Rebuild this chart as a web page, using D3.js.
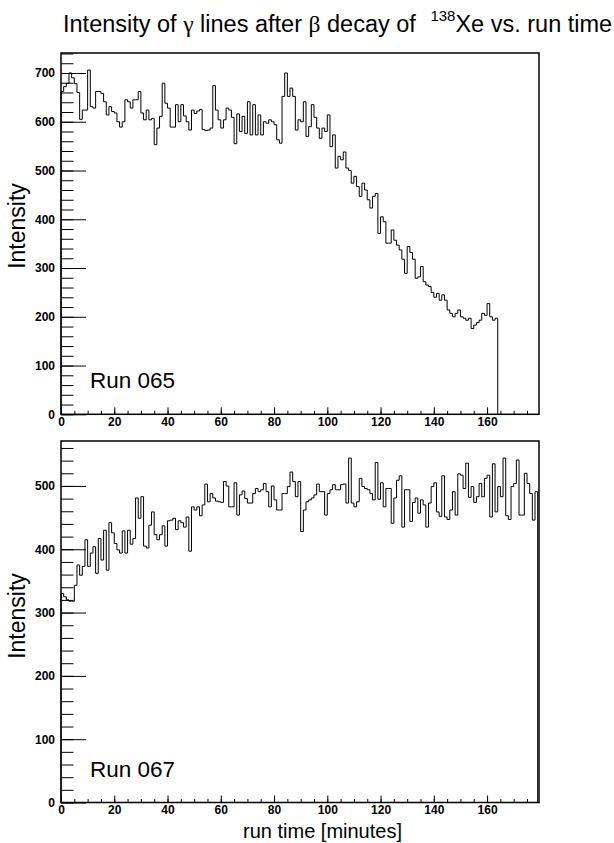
<!DOCTYPE html>
<html>
<head>
<meta charset="utf-8">
<script src="https://cdn.jsdelivr.net/npm/d3@7"></script>
<style>
body { margin: 0; background: #fff; }
text { font-family: "Liberation Sans", Arial, Helvetica, sans-serif; }
</style>
</head>
<body>
<svg id="chart" width="614" height="843"></svg>
<script>
// intensity per 1 minute bin, starting at 0 min
const run065 = [662, 672, 679, 700, 690, 678, 660, 605, 624, 624,
  706, 631, 628, 662, 662, 658, 641, 614, 631, 621,
  618, 600, 589, 600, 645, 641, 628, 645, 645, 662,
  618, 604, 624, 604, 607, 553, 587, 611, 679, 638,
  628, 589, 589, 635, 600, 635, 612, 600, 583, 624,
  617, 622, 625, 584, 582, 583, 587, 674, 624, 604,
  587, 604, 628, 624, 609, 555, 616, 580, 611, 576,
  641, 573, 635, 573, 614, 573, 600, 597, 604, 600,
  594, 563, 556, 652, 700, 652, 669, 652, 583, 604,
  600, 641, 570, 590, 635, 609, 587, 566, 587, 580,
  614, 549, 573, 505, 529, 522, 538, 505, 500, 474,
  488, 467, 447, 474, 460, 440, 423, 447, 453, 371,
  405, 395, 351, 351, 378, 357, 347, 337, 318, 289,
  344, 332, 318, 279, 282, 303, 272, 265, 262, 250,
  240, 248, 234, 245, 234, 214, 207, 200, 207, 214,
  200, 197, 193, 197, 176, 183, 188, 193, 207, 203,
  227, 200, 193, 197];

const run067 = [330, 325, 320, 318, 318, 343, 375, 359, 373, 415,
  373, 394, 404, 362, 417, 383, 430, 367, 442, 426,
  409, 399, 394, 429, 394, 430, 408, 417, 481, 449,
  483, 405, 402, 438, 459, 423, 415, 423, 437, 405,
  445, 446, 449, 431, 445, 442, 435, 451, 397, 467,
  462, 467, 453, 470, 503, 475, 488, 481, 476, 475,
  474, 507, 500, 467, 467, 505, 454, 486, 492, 480,
  473, 473, 488, 496, 491, 494, 504, 491, 467, 500,
  478, 462, 462, 488, 488, 499, 522, 507, 483, 507,
  428, 462, 475, 478, 481, 486, 503, 491, 491, 454,
  488, 494, 502, 494, 494, 502, 503, 473, 544, 473,
  467, 475, 512, 499, 496, 494, 488, 478, 537, 479,
  505, 467, 496, 496, 441, 481, 509, 516, 435, 494,
  494, 444, 474, 481, 457, 478, 470, 435, 473, 499,
  505, 459, 452, 516, 451, 447, 462, 491, 454, 519,
  517, 496, 536, 482, 499, 474, 483, 504, 483, 512,
  517, 451, 535, 459, 499, 483, 544, 453, 447, 499,
  504, 541, 454, 454, 520, 504, 488, 446, 491];

const xTicks = [0, 20, 40, 60, 80, 100, 120, 140, 160];
const yTicks065 = [0, 100, 200, 300, 400, 500, 600, 700];
const yTicks067 = [0, 100, 200, 300, 400, 500];
const runNames = ["Run 065", "Run 067"];

const svg = d3.select("#chart");

const x = d3.scaleLinear().domain([0, 179.5]).range([61, 539]);

// title with greek letters and superscript
const title = svg.append("text")
  .attr("x", 63)
  .attr("y", 32)
  .attr("font-size", "23.5px")
  .attr("fill", "#000");
title.append("tspan").text("Intensity of ");
title.append("tspan").attr("font-family", "Liberation Serif, serif").text("γ");
title.append("tspan").text(" lines after ");
title.append("tspan").attr("font-family", "Liberation Serif, serif").text("β");
title.append("tspan").text(" decay of ");
title.append("tspan").attr("font-size", "15px").attr("dx", 8).attr("dy", -11).text("138");
title.append("tspan").attr("dy", 11).text("Xe vs. run time");

function drawPanel(values, yMax, top, bottom, yTicks, name, titleY) {
  const y = d3.scaleLinear().domain([0, yMax]).range([bottom, top]);
  const g = svg.append("g");

  // histogram outline
  const pts = [[0, 0]];
  values.forEach((v, i) => {
    pts.push([i, v]);
    pts.push([i + 1, v]);
  });
  pts.push([values.length, 0]);

  const line = d3.line().x(d => x(d[0])).y(d => y(d[1]));
  g.append("path")
    .attr("d", line(pts))
    .attr("fill", "none")
    .attr("stroke", "#000")
    .attr("stroke-width", 1);

  // y axis minor ticks
  const yMinor = g.append("g")
    .attr("transform", `translate(${x(0)},0)`)
    .call(d3.axisLeft(y).tickValues(d3.range(0, yMax, 20)).tickSize(-12.5).tickFormat(""));
  yMinor.select(".domain").remove();

  // y axis major ticks + labels
  const yAxis = g.append("g")
    .attr("transform", `translate(${x(0)},0)`)
    .call(d3.axisLeft(y).tickValues(yTicks).tickSize(-25).tickPadding(6));
  yAxis.select(".domain").remove();
  yAxis.selectAll("text")
    .attr("font-size", "12px")
    .attr("font-weight", "bold")
    .attr("font-family", "Liberation Sans, Arial, sans-serif");

  // x axis minor ticks
  const xMinor = g.append("g")
    .attr("transform", `translate(0,${bottom})`)
    .call(d3.axisBottom(x).tickValues(d3.range(0, 180, 5)).tickSize(-3.5).tickFormat(""));
  xMinor.select(".domain").remove();

  const xAxis = g.append("g")
    .attr("transform", `translate(0,${bottom})`)
    .call(d3.axisBottom(x).tickValues(xTicks).tickSize(-7).tickPadding(3));
  xAxis.select(".domain").remove();
  xAxis.selectAll("text")
    .attr("font-size", "12px")
    .attr("font-weight", "bold")
    .attr("font-family", "Liberation Sans, Arial, sans-serif");

  // frame
  g.append("rect")
    .attr("x", x(0))
    .attr("y", top)
    .attr("width", x(179.5) - x(0))
    .attr("height", bottom - top)
    .attr("fill", "none")
    .attr("stroke", "#000")
    .attr("stroke-width", 1.5);

  // run name
  g.append("text")
    .attr("x", 90)
    .attr("y", bottom - 26)
    .attr("font-size", "22.5px")
    .text(name);

  // y title
  g.append("text")
    .attr("transform", `translate(25,${titleY}) rotate(-90)`)
    .attr("text-anchor", "middle")
    .attr("font-size", "23px")
    .text("Intensity");
}

drawPanel(run065, 741, 53, 414.3, yTicks065, runNames[0], 226);
drawPanel(run067, 571, 441, 802.5, yTicks067, runNames[1], 616);

svg.append("text")
  .attr("x", 322.5)
  .attr("y", 838)
  .attr("text-anchor", "middle")
  .attr("font-size", "20px")
  .text("run time [minutes]");
</script>
</body>
</html>
